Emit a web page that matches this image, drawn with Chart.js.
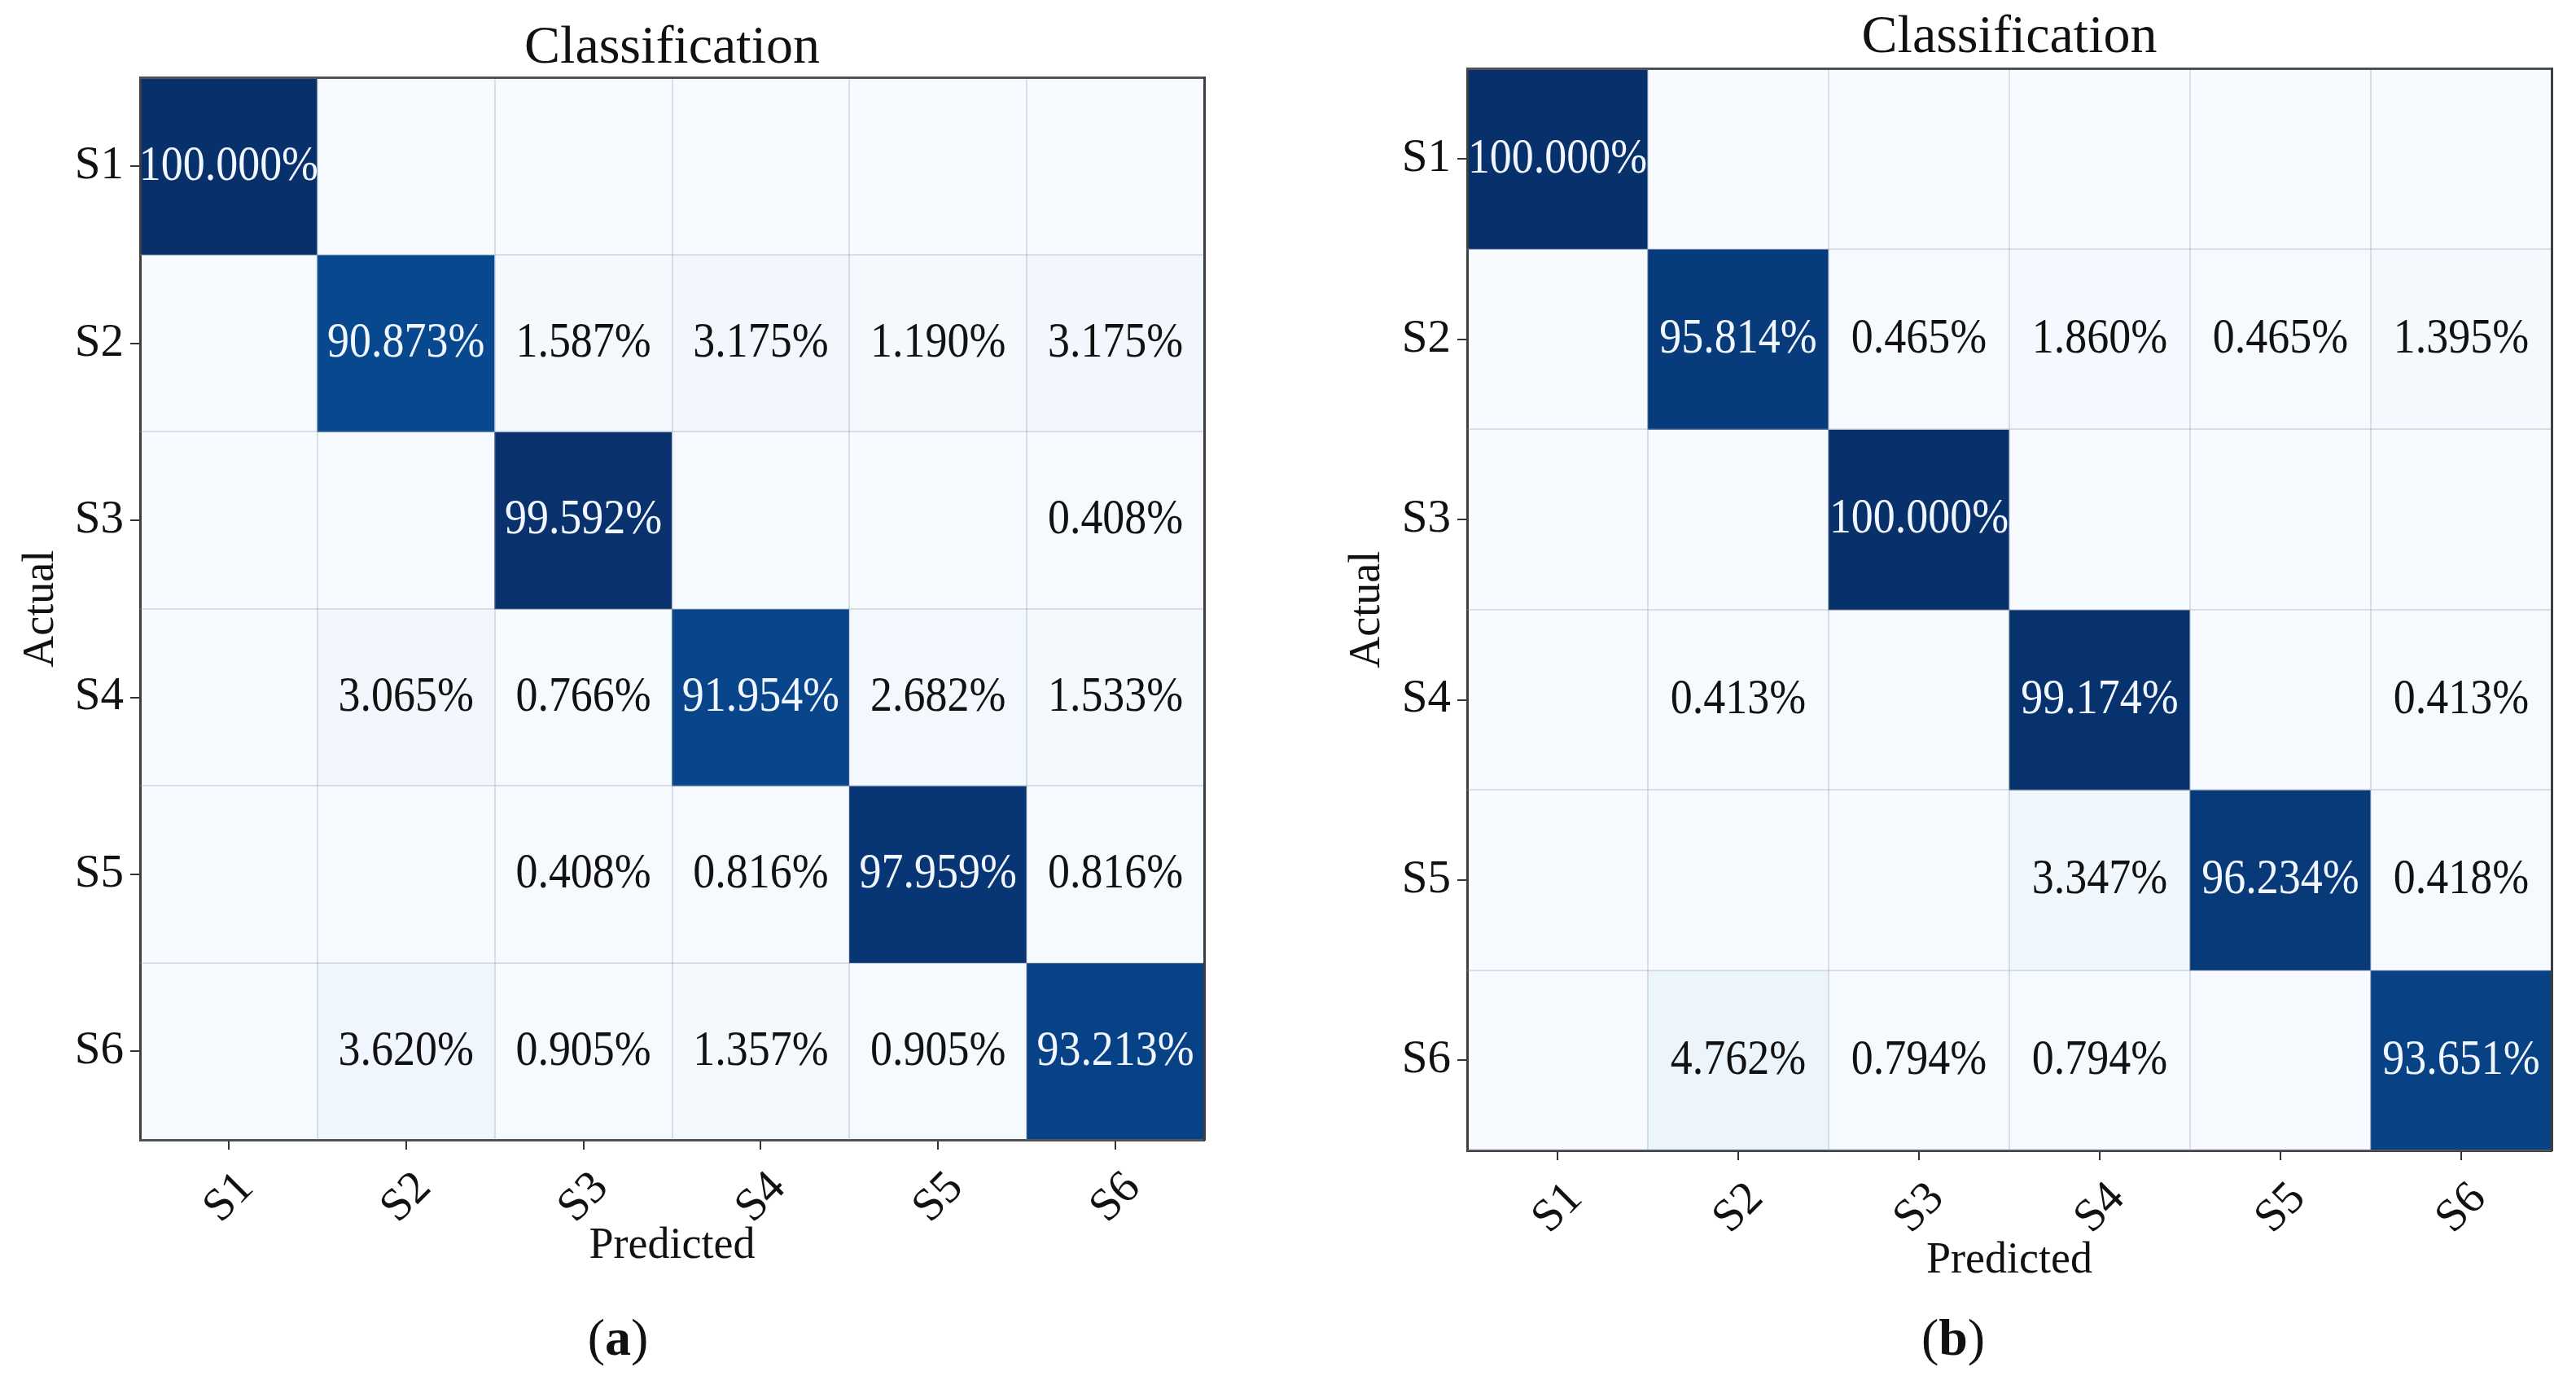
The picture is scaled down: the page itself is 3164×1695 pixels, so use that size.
<!DOCTYPE html>
<html>
<head>
<meta charset="utf-8">
<script src="https://cdn.jsdelivr.net/npm/chart.js@4.4.0/dist/chart.umd.min.js"></script>
<style>
  html, body { margin: 0; padding: 0; background: #fff; }
  #page { position: relative; width: 3164px; height: 1695px; overflow: hidden; }
  .box { position: absolute; top: 0; height: 1600px; }
  .cap { position: absolute; top: 1606px; font-family: 'Liberation Serif'; font-size: 64px; color: #111; transform: translateX(-50%); }
</style>
</head>
<body>
<div id="page">
  <div class="box" style="left:0;width:1560px"><canvas id="chartA"></canvas></div>
  <div class="box" style="left:1560px;width:1604px"><canvas id="chartB"></canvas></div>
  <div class="cap" style="left:759px">(<b>a</b>)</div>
  <div class="cap" style="left:2399px">(<b>b</b>)</div>
</div>
<script>
const classes = ['S1', 'S2', 'S3', 'S4', 'S5', 'S6'];

// (a) one array per actual class, columns = predicted S1..S6 (%)
const a_S1 = [100, 0, 0, 0, 0, 0];
const a_S2 = [0, 90.873, 1.587, 3.175, 1.190, 3.175];
const a_S3 = [0, 0, 99.592, 0, 0, 0.408];
const a_S4 = [0, 3.065, 0.766, 91.954, 2.682, 1.533];
const a_S5 = [0, 0, 0.408, 0.816, 97.959, 0.816];
const a_S6 = [0, 3.620, 0.905, 1.357, 0.905, 93.213];

// (b)
const b_S1 = [100, 0, 0, 0, 0, 0];
const b_S2 = [0, 95.814, 0.465, 1.860, 0.465, 1.395];
const b_S3 = [0, 0, 100, 0, 0, 0];
const b_S4 = [0, 0.413, 0, 99.174, 0, 0.413];
const b_S5 = [0, 0, 0, 3.347, 96.234, 0.418];
const b_S6 = [0, 4.762, 0.794, 0.794, 0, 93.651];

const serif = "'Liberation Serif', 'Times New Roman', serif";
const blues = ['#f7fbff', '#deebf7', '#c6dbef', '#9ecae1', '#6baed6', '#4292c6', '#2171b5', '#08519c', '#08306b'];
const spine = '#3e3e3e';
const gridLight = 'rgba(140,150,165,0.28)';

function hex(h) {
    return [1, 3, 5].map(i => parseInt(h.substr(i, 2), 16));
}

function blue(v) {
    const t = Math.max(0, Math.min(1, v / 100)) * (blues.length - 1);
    const i = Math.min(Math.floor(t), blues.length - 2);
    const f = t - i;
    const c0 = hex(blues[i]), c1 = hex(blues[i + 1]);
    return 'rgb(' + c0.map((c, k) => Math.round(c + (c1[k] - c) * f)).join(',') + ')';
}

function rowsToDatasets(rows) {
    return rows.map((row, r) => ({
        label: classes[r],
        data: row.map(() => [r - 0.5, r + 0.5]),
        values: row,
        backgroundColor: row.map(blue),
        borderWidth: 0,
        grouped: false,
        barPercentage: 1,
        categoryPercentage: 1,
        xAxisID: 'x',
        yAxisID: 'y'
    }));
}

// percentage text in every non-empty cell
const cellText = {
    id: 'cellText',
    afterDraw(chart) {
        const ctx = chart.ctx;
        const xs = chart.scales.x, ys = chart.scales.y;
        ctx.save();
        ctx.font = '62px ' + serif;
        ctx.textAlign = 'center';
        ctx.textBaseline = 'middle';
        chart.data.datasets.forEach((ds, r) => {
            ds.values.forEach((v, c) => {
                if (!v) return;
                const cx = xs.getPixelForValue(c);
                const cy = ys.getPixelForValue(r);
                const hw = (xs.getPixelForValue(1) - xs.getPixelForValue(0)) / 2;
                const y0 = ys.getPixelForValue(r - 0.5), y1 = ys.getPixelForValue(r + 0.5);
                ctx.save();
                ctx.beginPath();
                ctx.rect(cx - hw, Math.min(y0, y1), hw * 2, Math.abs(y1 - y0));
                ctx.clip();
                ctx.translate(cx, cy);
                ctx.scale(0.87, 1);
                ctx.fillStyle = v > 50 ? '#f2f7ff' : '#111';
                ctx.fillText(v.toFixed(3) + '%', 0, 0);
                ctx.restore();
            });
        });
        ctx.restore();
    }
};

function makeChart(id, rows, lay) {
    const axisFont = { family: serif, size: 57 };
    return new Chart(document.getElementById(id), {
        type: 'bar',
        data: { labels: classes, datasets: rowsToDatasets(rows) },
        plugins: [cellText],
        options: {
            responsive: true,
            maintainAspectRatio: false,
            devicePixelRatio: 1,
            animation: false,
            events: [],
            layout: { padding: lay.padding },
            plugins: {
                legend: { display: false },
                tooltip: { enabled: false },
                title: {
                    display: true,
                    text: 'Classification',
                    fullSize: false,
                    color: '#111',
                    font: { family: serif, size: 66, weight: 'normal', lineHeight: 1.1 },
                    padding: lay.titlePad
                }
            },
            scales: {
                x: {
                    type: 'category',
                    position: 'bottom',
                    offset: true,
                    grid: { offset: false, drawOnChartArea: false, tickLength: 12, color: '#333', lineWidth: 2, z: 1 },
                    border: { color: spine, width: 3, z: 1 },
                    ticks: { minRotation: 45, maxRotation: 45, autoSkip: false, labelOffset: 22, padding: 14, color: '#111', font: axisFont },
                    title: { display: true, text: 'Predicted', color: '#111', font: { family: serif, size: 54 }, padding: { bottom: lay.xTitleBottom } },
                    afterFit: s => { s.height = lay.xHeight; }
                },
                x2: {
                    type: 'category',
                    position: 'top',
                    offset: true,
                    grid: { offset: true, drawTicks: false, color: gridLight, lineWidth: 2, z: 1 },
                    border: { color: spine, width: 3, z: 1 },
                    ticks: { display: false },
                    afterFit: s => { s.height = 0; }
                },
                y: {
                    type: 'linear',
                    position: 'left',
                    min: -0.5,
                    max: 5.5,
                    reverse: true,
                    afterBuildTicks: s => { s.ticks = classes.map((c, i) => ({ value: i })); },
                    grid: { drawOnChartArea: false, tickLength: 12, color: '#333', lineWidth: 2, z: 1 },
                    border: { color: spine, width: 3, z: 1 },
                    ticks: { padding: 8, color: '#111', font: axisFont, callback: v => classes[v] },
                    title: { display: true, text: 'Actual', color: '#111', font: { family: serif, size: 54 }, padding: { top: lay.yTitleTop } },
                    afterFit: s => { s.width = lay.yWidth; }
                },
                y2: {
                    type: 'linear',
                    position: 'right',
                    min: -0.5,
                    max: 5.5,
                    reverse: true,
                    afterBuildTicks: s => { s.ticks = [-0.5, 0.5, 1.5, 2.5, 3.5, 4.5, 5.5].map(v => ({ value: v })); },
                    grid: { drawTicks: false, color: gridLight, lineWidth: 2, z: 1 },
                    border: { color: spine, width: 3, z: 1 },
                    ticks: { display: false },
                    afterFit: s => { s.width = 0; }
                }
            }
        }
    });
}

makeChart('chartA', [a_S1, a_S2, a_S3, a_S4, a_S5, a_S6], {
    padding: { left: 0, right: 81, top: 0, bottom: 0 },
    titlePad: { top: 23, bottom: 0 },
    xHeight: 200, xTitleBottom: 37,
    yWidth: 172, yTitleTop: 18
});

makeChart('chartB', [b_S1, b_S2, b_S3, b_S4, b_S5, b_S6], {
    padding: { left: 0, right: 30, top: 0, bottom: 0 },
    titlePad: { top: 10, bottom: 2 },
    xHeight: 187, xTitleBottom: 19,
    yWidth: 242, yTitleTop: 87
});
</script>
</body>
</html>
